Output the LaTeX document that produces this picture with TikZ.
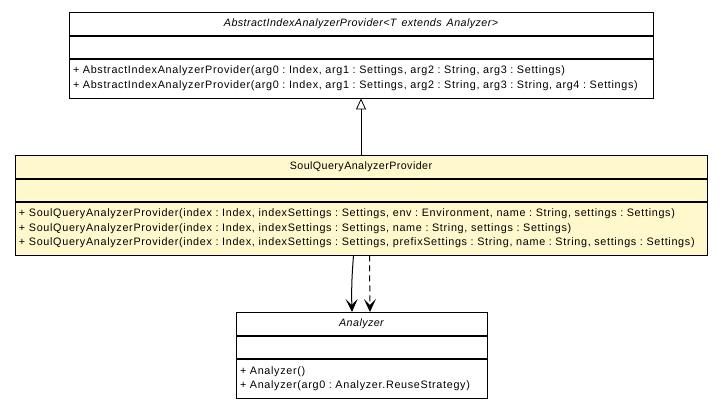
\documentclass[tikz,border=0pt]{standalone}
\usepackage{fontspec}
\setmainfont{Liberation Sans}[LetterSpace=4, WordSpace=1.5]
\newfontfamily\opsfamily{Liberation Sans}[LetterSpace=6.3, WordSpace=1.6]
\usetikzlibrary{arrows.meta,positioning}

\definecolor{noteyellow}{RGB}{255,248,204}

\begin{document}
\frenchspacing
\begin{tikzpicture}[x=1pt, y=-1pt, >=Stealth,
    umlhead/.style={draw, line width=0.8pt, inner sep=0pt, minimum height=23pt, anchor=north,
        font=\fontsize{10.7}{12}\selectfont},
    umlfield/.style={draw, line width=0.8pt, inner sep=0pt, minimum height=22pt},
    umlops/.style={draw, line width=0.8pt, inner xsep=4pt, inner ysep=0pt, align=left,
        font=\opsfamily\fontsize{10.8}{14.6}\selectfont},
    dep/.style={-{Stealth[length=13pt, width=12pt, inset=6pt]}, line width=1pt}
]
    \useasboundingbox (0,0) rectangle (723,408);

    % Oberklasse
    \node[umlhead, minimum width=584pt] (abs) at (361,12)
        {\itshape AbstractIndexAnalyzerProvider<T extends Analyzer>};
    \node[umlfield, minimum width=584pt, below=0pt of abs] (absfld) {};
    \node[umlops, text width=576pt, minimum height=39pt, below=0pt of absfld] (absops)
        {+ AbstractIndexAnalyzerProvider(arg0 : Index, arg1 : Settings, arg2 : String, arg3 : Settings)\\
         + AbstractIndexAnalyzerProvider(arg0 : Index, arg1 : Settings, arg2 : String, arg3 : String, arg4 : Settings)};

    % Provider (gelb)
    \node[umlhead, fill=noteyellow, minimum width=692pt] (soul) at (361,155)
        {SoulQueryAnalyzerProvider};
    \node[umlfield, fill=noteyellow, minimum width=692pt, below=0pt of soul] (soulfld) {};
    \node[umlops, fill=noteyellow, text width=684pt, minimum height=53pt, below=0pt of soulfld] (soulops)
        {+ SoulQueryAnalyzerProvider(index : Index, indexSettings : Settings, env : Environment, name : String, settings : Settings)\\
         + SoulQueryAnalyzerProvider(index : Index, indexSettings : Settings, name : String, settings : Settings)\\
         + SoulQueryAnalyzerProvider(index : Index, indexSettings : Settings, prefixSettings : String, name : String, settings : Settings)};

    % Analyzer
    \node[umlhead, minimum width=251pt] (ana) at (361.5,312) {\itshape Analyzer};
    \node[umlfield, minimum width=251pt, below=0pt of ana] (anafld) {};
    \node[umlops, text width=243pt, minimum height=39pt, below=0pt of anafld] (anaops)
        {+ Analyzer()\\
         + Analyzer(arg0 : Analyzer.ReuseStrategy)};

    % Vererbung
    \draw[-{Triangle[open, length=11pt, width=10pt]}, line width=0.8pt] (soul.north) -- (absops.south);

    % Abhaengigkeiten
    \draw[dep] ([xshift=-7.5pt]soulops.south) to[bend right=3] ([xshift=-9.5pt]ana.north);
    \draw[dep, dash pattern=on 6pt off 4pt] ([xshift=8.5pt]soulops.south) -- ([xshift=8.5pt]ana.north);
\end{tikzpicture}
\end{document}
